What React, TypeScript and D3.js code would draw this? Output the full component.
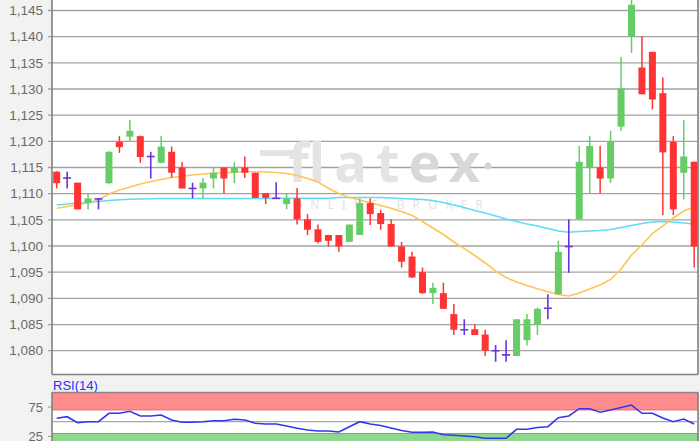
import React from 'react';
import * as d3 from 'd3';

// ---- data ----
const opens = [1.1142,1.1130,1.1121,1.1082,1.1090,1.1120,1.1199,1.1209,1.1210,1.1171,1.1159,1.1180,1.1150,1.1110,1.1110,1.1129,1.1150,1.1140,1.1150,1.1140,1.1101,1.1091,1.1080,1.1091,1.1051,1.1032,1.1021,1.1021,1.1008,1.1021,1.1082,1.1063,1.1042,1.0999,1.0980,1.0950,1.0910,1.0910,1.0870,1.0840,1.0841,1.0831,1.0800,1.0792,1.0790,1.0820,1.0850,1.0881,1.0908,1.0999,1.1051,1.1150,1.1150,1.1129,1.1228,1.1400,1.1341,1.1371,1.1292,1.1199,1.1140,1.1161];
const highs = [1.1143,1.1142,1.1121,1.1101,1.1091,1.1181,1.1210,1.1241,1.1211,1.1180,1.1210,1.1190,1.1160,1.1121,1.1130,1.1150,1.1150,1.1160,1.1171,1.1140,1.1101,1.1122,1.1101,1.1111,1.1061,1.1041,1.1021,1.1021,1.1041,1.1091,1.1091,1.1069,1.1051,1.1008,1.0989,1.0959,1.0930,1.0930,1.0889,1.0860,1.0850,1.0840,1.0811,1.0820,1.0860,1.0870,1.0882,1.0908,1.1010,1.1051,1.1191,1.1210,1.1191,1.1220,1.1361,1.1480,1.1401,1.1371,1.1322,1.1210,1.1241,1.1161];
const lows = [1.1110,1.1110,1.1070,1.1070,1.1070,1.1119,1.1178,1.1199,1.1159,1.1129,1.1158,1.1131,1.1110,1.1091,1.1091,1.1110,1.1101,1.1120,1.1130,1.1092,1.1080,1.1090,1.1070,1.1041,1.1021,1.1005,1.0999,1.0989,1.1008,1.1021,1.1040,1.1031,1.0999,1.0959,1.0939,1.0909,1.0889,1.0880,1.0830,1.0830,1.0830,1.0790,1.0779,1.0779,1.0790,1.0810,1.0830,1.0860,1.0908,1.0949,1.1050,1.1101,1.1101,1.1120,1.1220,1.1369,1.1290,1.1261,1.1059,1.1059,1.1089,1.0959];
const closes = [1.1120,1.1130,1.1070,1.1091,1.1090,1.1180,1.1189,1.1220,1.1170,1.1171,1.1190,1.1140,1.1110,1.1110,1.1121,1.1140,1.1129,1.1151,1.1140,1.1092,1.1092,1.1091,1.1091,1.1051,1.1031,1.1008,1.1010,1.0999,1.1041,1.1082,1.1061,1.1042,1.0999,1.0970,1.0940,1.0910,1.0920,1.0880,1.0840,1.0840,1.0830,1.0800,1.0800,1.0792,1.0860,1.0860,1.0880,1.0881,1.0989,1.0999,1.1161,1.1191,1.1129,1.1199,1.1301,1.1461,1.1290,1.1280,1.1179,1.1070,1.1171,1.0999];

const maShort = [1.10721,1.10755,1.10790,1.10822,1.10879,1.10994,1.11070,1.11128,1.11185,1.11233,1.11271,1.11309,1.11334,1.11357,1.11376,1.11390,1.11399,1.11409,1.11418,1.11418,1.11414,1.11405,1.11386,1.11348,1.11290,1.11223,1.11103,1.11004,1.10927,1.10879,1.10828,1.10774,1.10721,1.10660,1.10583,1.10469,1.10344,1.10220,1.10077,1.09949,1.09819,1.09676,1.09523,1.09399,1.09313,1.09246,1.09185,1.09127,1.09074,1.09045,1.09103,1.09179,1.09255,1.09361,1.09561,1.09829,1.10020,1.10239,1.10383,1.10535,1.10669,1.10751];
const maLong = [1.10784,1.10803,1.10822,1.10836,1.10851,1.10870,1.10883,1.10895,1.10899,1.10902,1.10908,1.10908,1.10908,1.10908,1.10908,1.10908,1.10908,1.10908,1.10908,1.10908,1.10908,1.10914,1.10914,1.10914,1.10914,1.10914,1.10914,1.10927,1.10927,1.10927,1.10927,1.10927,1.10918,1.10908,1.10899,1.10889,1.10870,1.10832,1.10784,1.10736,1.10679,1.10631,1.10574,1.10516,1.10469,1.10421,1.10383,1.10335,1.10287,1.10262,1.10278,1.10287,1.10297,1.10316,1.10354,1.10392,1.10430,1.10459,1.10469,1.10459,1.10440,1.10421];

const rsiValues = [55.8,58.5,48.3,50.0,50.0,64.3,64.3,67.7,59.7,59.7,61.4,52.9,49.0,49.0,50.0,51.7,51.7,54.1,52.9,47.3,46.1,46.1,42.7,38.8,35.9,34.2,34.2,32.5,41.5,50.0,46.1,43.5,39.3,35.0,32.0,32.1,32.5,27.9,26.9,25.7,24.3,21.8,21.8,21.8,37.1,37.1,40.1,41.5,56.8,59.7,72.1,72.1,66.0,69.9,74.1,78.4,64.3,64.3,56.3,50.0,54.6,46.1];

const priceTicks = [1.080,1.085,1.090,1.095,1.100,1.105,1.110,1.115,1.120,1.125,1.130,1.135,1.140,1.145];
const rsiTicks = [25, 75];
const rsiLabel = 'RSI(14)';

// ---- layout ----
const W = 700, H = 441;
const plotL = 52, plotR = 698, mainBottom = 374.5;
const rsiTop = 392.3;

const locale = d3.formatLocale({ decimal: ',', thousands: '.', grouping: [3], currency: ['', '€'] });
const fmt = locale.format('.3f');

export default function App() {
  const idx = d3.range(opens.length);
  const x = d3.scaleLinear().domain([0, opens.length - 1]).range([56.7, 694.2]);
  const y = d3.scaleLinear().domain([1.08, 1.145]).range([350.7, 10.5]);
  const ry = d3.scaleLinear().domain([0, 100]).range([451.1, rsiTop]);
  const bw = 7;

  const lineMain = (arr: number[]) => d3.line<number>().x((_, i) => x(i)).y((d) => y(d))(arr) || '';
  const rsiPath = d3.line<number>().x((_, i) => x(i)).y((d) => ry(d))(rsiValues) || '';

  const red = '#ff3333', green = '#66cc66', doji = '#6a35d8';

  return (
    <svg width={W} height={H} style={{ position: 'absolute', left: 0, top: 0 }} fontFamily="'Liberation Sans', Arial, sans-serif">
      <defs>
        <clipPath id="mainClip"><rect x={plotL} y={0} width={plotR - plotL} height={mainBottom} /></clipPath>
        <clipPath id="rsiClip"><rect x={plotL} y={rsiTop} width={plotR - plotL} height={H - rsiTop} /></clipPath>
      </defs>
      <rect x={0} y={0} width={W} height={H} fill="#f2f2f2" />
      {/* main plot */}
      <rect x={plotL} y={-2} width={plotR - plotL} height={mainBottom + 2} fill="#ffffff" />
      {priceTicks.map((t) => (
        <g key={t}>
          <line x1={48} x2={plotR} y1={y(t)} y2={y(t)} stroke="#a2a2a2" strokeWidth={1.3} />
          <text x={43} y={y(t)} dy="0.35em" textAnchor="end" fontSize={13.5} fill="#6a6a6a">{fmt(t)}</text>
        </g>
      ))}
      {/* watermark */}
      <g>
        <rect x={260} y={150} width={34} height={6} fill="#e4e4e4" />
        <text x={288} y={182} fontSize={54} fill="#e4e4e4" fontWeight="bold" fontFamily="'Noto Sans', sans-serif" textLength={192} lengthAdjust="spacing">
          flat<tspan fill="#d8d8d8">ex</tspan>
        </text>
        <circle cx={488} cy={166} r={3.4} fill="#d4d4d4" />
        <text x={293} y={209} fontSize={12} fill="#e4e4e4" fontFamily="'Noto Sans', sans-serif" textLength={190} lengthAdjust="spacing">ONLINE BROKER</text>
      </g>
      <g clipPath="url(#mainClip)">
        <path d={lineMain(maLong)} fill="none" stroke="#5fdcf5" strokeWidth={1.6} />
        <path d={lineMain(maShort)} fill="none" stroke="#ffc452" strokeWidth={1.6} />
        {idx.map((i) => {
          const o = opens[i], c = closes[i], h = highs[i], l = lows[i];
          const cx = x(i);
          if (o === c) {
            return (
              <g key={i} stroke={doji} strokeWidth={1.6}>
                <line x1={cx} x2={cx} y1={y(h)} y2={y(l)} />
                <line x1={cx - bw / 2 - 0.5} x2={cx + bw / 2 + 0.5} y1={y(o)} y2={y(o)} />
              </g>
            );
          }
          const col = c > o ? green : red;
          const top = y(Math.max(o, c)), bot = y(Math.min(o, c));
          return (
            <g key={i}>
              <line x1={cx} x2={cx} y1={y(h)} y2={y(l)} stroke={col} strokeWidth={1.5} />
              <rect x={cx - bw / 2} y={top} width={bw} height={Math.max(1, bot - top)} fill={col} />
            </g>
          );
        })}
      </g>
      <line x1={plotL} x2={plotL} y1={0} y2={mainBottom} stroke="#808080" strokeWidth={1.6} />
      <line x1={plotR} x2={plotR} y1={0} y2={mainBottom} stroke="#808080" strokeWidth={1.6} />
      <line x1={plotL} x2={plotR} y1={mainBottom} y2={mainBottom} stroke="#808080" strokeWidth={1.6} />

      {/* RSI panel */}
      <text x={53} y={389.5} fontSize={13} fill="#2d2dff">{rsiLabel}</text>
      <rect x={plotL} y={rsiTop} width={plotR - plotL} height={H - rsiTop + 5} fill="#ffffff" />
      <g clipPath="url(#rsiClip)">
        <rect x={plotL} y={ry(100)} width={plotR - plotL} height={ry(70) - ry(100)} fill="#ff8c8c" />
        <line x1={plotL} x2={plotR} y1={ry(100) + 0.5} y2={ry(100) + 0.5} stroke="#e86a6a" strokeWidth={1} />
        <line x1={plotL} x2={plotR} y1={ry(70)} y2={ry(70)} stroke="#e86a6a" strokeWidth={1} />
        <rect x={plotL} y={ry(30)} width={plotR - plotL} height={ry(0) - ry(30)} fill="#8fd68f" />
        <line x1={plotL} x2={plotR} y1={ry(30)} y2={ry(30)} stroke="#5cb85c" strokeWidth={1} />
        <line x1={plotL} x2={plotR} y1={ry(50)} y2={ry(50)} stroke="#a8a8a8" strokeWidth={1.2} />
        <path d={rsiPath} fill="none" stroke="#3535f0" strokeWidth={1.6} />
      </g>
      {rsiTicks.map((t) => (
        <g key={t}>
          <line x1={48} x2={plotL} y1={ry(t)} y2={ry(t)} stroke="#a2a2a2" strokeWidth={1.2} />
          <text x={43} y={ry(t)} dy="0.35em" textAnchor="end" fontSize={13} fill="#6a6a6a">{t}</text>
        </g>
      ))}
      <line x1={plotL} x2={plotL} y1={rsiTop} y2={H} stroke="#808080" strokeWidth={1.6} />
      <line x1={plotR} x2={plotR} y1={rsiTop} y2={H} stroke="#808080" strokeWidth={1.6} />
      <line x1={plotL} x2={plotR} y1={rsiTop} y2={rsiTop} stroke="#808080" strokeWidth={1} />
    </svg>
  );
}
